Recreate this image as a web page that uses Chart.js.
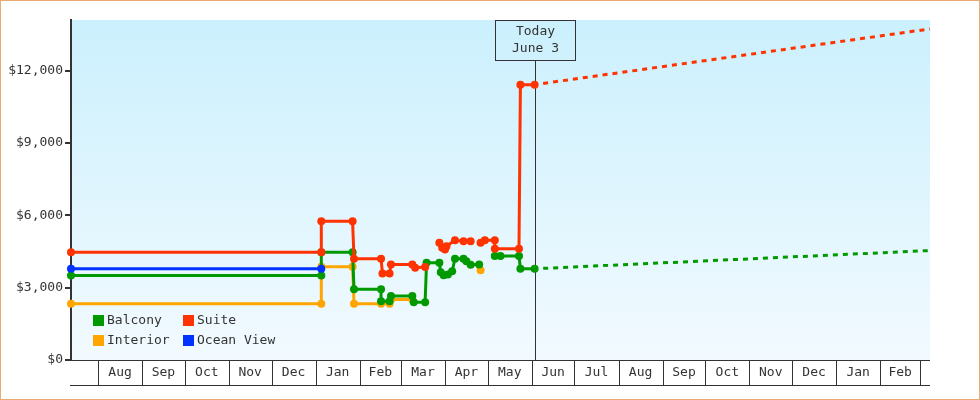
<!DOCTYPE html>
<html>
<head>
<meta charset="utf-8">
<title>Cabin price history</title>
<script src="https://cdn.jsdelivr.net/npm/chart.js@4.4.1/dist/chart.umd.min.js"></script>
<style>
  html, body { margin: 0; padding: 0; background: #fff; }
  #wrap { width: 980px; height: 400px; }
</style>
</head>
<body>
<div id="wrap"><canvas id="priceChart" width="980" height="400"></canvas></div>
<script>
// fare history per cabin type (null = no fare that day, the line breaks)
const suiteDates = ['2023-07-13', '2024-01-05', '2024-01-05', '2024-01-27', '2024-01-28', '2024-02-16', '2024-02-17',
    '2024-02-22', '2024-02-23', '2024-03-09', '2024-03-11', '2024-03-18', '2024-03-23', '2024-03-28', '2024-03-30',
    '2024-04-01', '2024-04-02', '2024-04-08', '2024-04-14', '2024-04-19', '2024-04-22', '2024-04-26', '2024-04-29',
    '2024-05-06', '2024-05-06', '2024-05-23', '2024-05-24', '2024-06-03'];
const suitePrices = [4470, 4470, 5750, 5750, 4200, 4200, 3590, 3590, 3960, 3960, 3830, 3860, null, 4860, 4650,
    4580, 4720, 4970, 4920, 4920, null, 4860, 4970, 4970, 4610, 4610, 11410, 11410];

const balconyDates = ['2023-07-13', '2024-01-05', '2024-01-05', '2024-01-27', '2024-01-28', '2024-02-16', '2024-02-16',
    '2024-02-22', '2024-02-23', '2024-03-09', '2024-03-10', '2024-03-18', '2024-03-19', '2024-03-28', '2024-03-29',
    '2024-03-31', '2024-04-03', '2024-04-06', '2024-04-08', '2024-04-14', '2024-04-16', '2024-04-19', '2024-04-25',
    '2024-05-01', '2024-05-06', '2024-05-10', '2024-05-23', '2024-05-24', '2024-06-03'];
const balconyPrices = [3500, 3500, 4470, 4470, 2930, 2930, 2440, 2440, 2650, 2650, 2400, 2400, 4030, 4030, 3640,
    3510, 3550, 3680, 4200, 4200, 4100, 3950, 3960, null, 4310, 4310, 4310, 3780, 3780];

const interiorDates = ['2023-07-13', '2024-01-05', '2024-01-05', '2024-01-27', '2024-01-28', '2024-02-16', '2024-02-22',
    '2024-02-23', '2024-03-09', '2024-04-01', '2024-04-26', '2024-05-01'];
const interiorPrices = [2330, 2330, 3870, 3870, 2330, 2330, 2330, 2510, 2510, null, 3725, null];

const oceanDates = ['2023-07-13', '2024-01-05'];
const oceanPrices = [3780, 3780];

// projected fares after today
const forecastDates = ['2024-06-09', '2025-03-08'];
const suiteForecast = [11470, 13730];
const balconyForecast = [3800, 4540];

const TODAY = '2024-06-03';
const TODAY_LABEL = ['Today', 'June 3'];
const X_MIN = '2023-07-13';
const X_MAX = '2025-03-08';
const Y_MAX = 14100;
const Y_TICKS = [0, 3000, 6000, 9000, 12000];
const MONTH_LABELS = ['Jan', 'Feb', 'Mar', 'Apr', 'May', 'Jun', 'Jul', 'Aug', 'Sep', 'Oct', 'Nov', 'Dec'];
const LEGEND_ORDER = ['Balcony', 'Suite', 'Interior', 'Ocean View'];

const COLORS = {
    'Balcony': '#009900',
    'Suite': '#ff3300',
    'Interior': '#ffa500',
    'Ocean View': '#0033ff'
};
const FONT = '13px "DejaVu Sans Mono", monospace';
const INK = '#333';

function toPoints(dates, prices) {
    return dates.map((d, i) => ({ x: Date.parse(d), y: prices[i] }));
}

function cabinSeries(label, dates, prices) {
    return {
        label: label,
        data: toPoints(dates, prices),
        borderColor: COLORS[label],
        backgroundColor: COLORS[label],
        pointBackgroundColor: COLORS[label],
        borderWidth: 3,
        pointRadius: 4,
        pointHoverRadius: 4,
        pointBorderWidth: 0,
        tension: 0,
        spanGaps: false,
        clip: false
    };
}

function forecastSeries(label, values) {
    return {
        label: label + ' forecast',
        data: toPoints(forecastDates, values),
        borderColor: COLORS[label],
        borderWidth: 3,
        borderDash: [5, 5],
        pointRadius: 0,
        tension: 0,
        clip: false
    };
}

// white page, orange frame, blue gradient behind the plot
const plotBackground = {
    id: 'plotBackground',
    beforeDraw(chart) {
        const { ctx, chartArea: a } = chart;
        ctx.save();
        ctx.fillStyle = '#fff';
        ctx.fillRect(0, 0, chart.width, chart.height);
        const g = ctx.createLinearGradient(0, a.top, 0, a.bottom);
        g.addColorStop(0, '#cbf0fd');
        g.addColorStop(1, '#f2faff');
        ctx.fillStyle = g;
        ctx.fillRect(a.left, a.top, a.right - a.left, a.bottom - a.top);
        ctx.strokeStyle = '#e9ac6e';
        ctx.lineWidth = 1;
        ctx.strokeRect(0.5, 0.5, chart.width - 1, chart.height - 1);
        ctx.restore();
    }
};

// "Today" box and marker line
const todayMarker = {
    id: 'todayMarker',
    beforeDatasetsDraw(chart) {
        const { ctx, chartArea: a, scales: { x } } = chart;
        const cx = Math.round(x.getPixelForValue(Date.parse(TODAY))) + 0.5;
        const boxTop = a.top + 0.5, boxH = 40, boxW = 80;
        ctx.save();
        ctx.strokeStyle = INK;
        ctx.lineWidth = 1;
        ctx.strokeRect(cx - boxW / 2, boxTop, boxW, boxH);
        ctx.beginPath();
        ctx.moveTo(cx, boxTop + boxH);
        ctx.lineTo(cx, a.bottom);
        ctx.stroke();
        ctx.fillStyle = INK;
        ctx.font = FONT;
        ctx.textAlign = 'center';
        ctx.textBaseline = 'middle';
        ctx.fillText(TODAY_LABEL[0], cx, a.top + 12);
        ctx.fillText(TODAY_LABEL[1], cx, a.top + 29);
        ctx.restore();
    }
};

// two-column legend inside the plot, bottom left
const cabinLegend = {
    id: 'cabinLegend',
    afterDatasetsDraw(chart) {
        const { ctx, chartArea: a } = chart;
        const cols = [a.left + 22, a.left + 112];
        const rows = [a.bottom - 45, a.bottom - 25];
        ctx.save();
        ctx.font = FONT;
        ctx.textAlign = 'left';
        ctx.textBaseline = 'middle';
        LEGEND_ORDER.forEach((label, i) => {
            const lx = cols[i % 2], ly = rows[Math.floor(i / 2)];
            ctx.fillStyle = COLORS[label];
            ctx.fillRect(lx, ly, 11, 11);
            ctx.fillStyle = INK;
            ctx.fillText(label, lx + 14, ly + 6);
        });
        ctx.restore();
    }
};

// month boxes under the plot
const monthBand = {
    id: 'monthBand',
    afterDraw(chart) {
        const { ctx, chartArea: a, scales: { x } } = chart;
        const top = a.bottom + 0.5, bottom = a.bottom + 25.5;
        const first = new Date(x.min);
        const edges = [];
        let m = first.getUTCMonth() + 1;
        while (true) {
            const t = Date.UTC(first.getUTCFullYear(), m, 1);
            if (t > x.max) break;
            edges.push(t);
            m++;
        }
        ctx.save();
        ctx.strokeStyle = INK;
        ctx.lineWidth = 1;
        ctx.beginPath();
        ctx.moveTo(a.left - 1, top);
        ctx.lineTo(a.right, top);
        ctx.moveTo(a.left - 1, bottom);
        ctx.lineTo(a.right, bottom);
        edges.forEach(t => {
            const px = Math.round(x.getPixelForValue(t)) + 0.5;
            ctx.moveTo(px, top);
            ctx.lineTo(px, bottom);
        });
        ctx.stroke();
        ctx.fillStyle = INK;
        ctx.font = FONT;
        ctx.textAlign = 'center';
        ctx.textBaseline = 'middle';
        for (let i = 0; i < edges.length - 1; i++) {
            const mid = (x.getPixelForValue(edges[i]) + x.getPixelForValue(edges[i + 1])) / 2;
            ctx.fillText(MONTH_LABELS[new Date(edges[i]).getUTCMonth()], mid, a.bottom + 13);
        }
        ctx.restore();
    }
};

new Chart(document.getElementById('priceChart'), {
    type: 'line',
    data: {
        datasets: [
            cabinSeries('Suite', suiteDates, suitePrices),
            cabinSeries('Ocean View', oceanDates, oceanPrices),
            cabinSeries('Balcony', balconyDates, balconyPrices),
            cabinSeries('Interior', interiorDates, interiorPrices),
            forecastSeries('Suite', suiteForecast),
            forecastSeries('Balcony', balconyForecast)
        ]
    },
    options: {
        responsive: false,
        animation: false,
        devicePixelRatio: 1,
        layout: { padding: { left: 0, right: 50, top: 20, bottom: 40 } },
        plugins: {
            legend: { display: false },
            tooltip: { enabled: false }
        },
        scales: {
            x: {
                type: 'linear',
                min: Date.parse(X_MIN),
                max: Date.parse(X_MAX),
                display: false
            },
            y: {
                min: 0,
                max: Y_MAX,
                afterFit(scale) { scale.width = 71; },
                afterBuildTicks(scale) { scale.ticks = Y_TICKS.map(v => ({ value: v })); },
                border: { display: true, color: INK, width: 2 },
                grid: { drawOnChartArea: false, drawTicks: true, tickLength: 6, color: INK, lineWidth: 2 },
                ticks: {
                    padding: 2,
                    color: INK,
                    font: { family: '"DejaVu Sans Mono", monospace', size: 13 },
                    callback: v => '$' + v.toLocaleString('en-US')
                }
            }
        }
    },
    plugins: [plotBackground, todayMarker, cabinLegend, monthBand]
});
</script>
</body>
</html>
